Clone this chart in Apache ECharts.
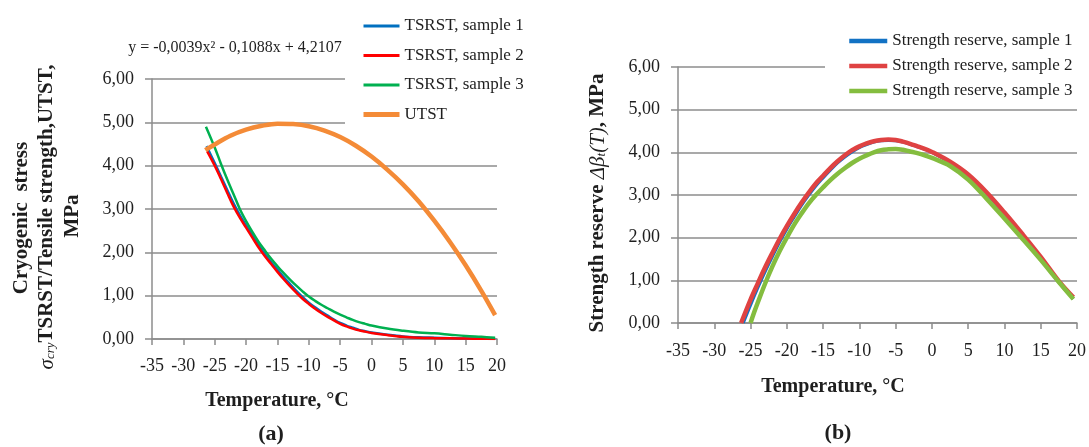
<!DOCTYPE html>
<html>
<head>
<meta charset="utf-8">
<script src="https://cdn.jsdelivr.net/npm/echarts@6/dist/echarts.min.js"></script>
<style>
html,body{margin:0;padding:0;background:#fff;}
#c{width:1089px;height:447px;}
</style>
</head>
<body>
<div id="c"></div>
<script>
// ---------- DATA ----------
const xTickValues = [-35,-30,-25,-20,-15,-10,-5,0,5,10,15,20];
const xTickLabels = ['-35','-30','-25','-20','-15','-10','-5','0','5','10','15','20'];
const yTickLabels = ['0,00','1,00','2,00','3,00','4,00','5,00','6,00'];

// (a) Cryogenic stress (TSRST) and tensile strength (UTST)
const tsrst1T = [-26.3,-25,-24,-23,-22,-21,-20,-19,-18,-17,-16,-15,-14,-13,-12,-11,-10,-9,-8,-7,-6,-5,-4,-3,-2,-1,0,2.5,5,7.5,10,12.5,15,17.5,19.7];
const tsrst1V = [4.45,4.06,3.75,3.44,3.13,2.86,2.62,2.39,2.16,1.96,1.77,1.60,1.43,1.27,1.11,0.97,0.84,0.73,0.63,0.54,0.45,0.37,0.31,0.26,0.21,0.18,0.15,0.10,0.06,0.04,0.03,0.02,0.01,0.01,0.01];
const tsrst2T = [-26.2,-25,-24,-23,-22,-21,-20,-19,-18,-17,-16,-15,-14,-13,-12,-11,-10,-9,-8,-7,-6,-5,-4,-3,-2,-1,0,2.5,5,7.5,10,12.5,15,17.5,19.7];
const tsrst2V = [4.33,4.00,3.69,3.37,3.06,2.80,2.57,2.34,2.11,1.91,1.73,1.55,1.38,1.22,1.07,0.93,0.81,0.70,0.60,0.51,0.43,0.35,0.29,0.24,0.20,0.17,0.14,0.09,0.05,0.03,0.02,0.015,0.01,0.005,0.00];
const tsrst3T = [-26.4,-25,-24,-23,-22,-21,-20,-19,-18,-17,-16,-15,-14,-13,-12,-11,-10,-9,-8,-7,-6,-5,-4,-3,-2,-1,0,2.5,5,7.5,10,12.5,15,17.5,19.7];
const tsrst3V = [4.90,4.42,4.04,3.68,3.34,3.00,2.72,2.47,2.24,2.04,1.85,1.68,1.52,1.37,1.23,1.10,0.98,0.88,0.79,0.71,0.63,0.56,0.50,0.44,0.39,0.35,0.31,0.24,0.19,0.15,0.13,0.10,0.07,0.05,0.03];
const utstT = [-26.5,-25,-22.5,-20,-17.5,-15,-12.5,-10,-7.5,-5,-2.5,0,2.5,5,7.5,10,12.5,15,17.5,19.7];
const utstV = [4.36,4.49,4.69,4.83,4.92,4.97,4.96,4.91,4.81,4.66,4.46,4.21,3.91,3.57,3.18,2.73,2.24,1.70,1.11,0.55];
const equationText = 'y = -0,0039x² - 0,1088x + 4,2107';

// (b) Strength reserve
const res1T = [-26.0,-25,-24,-23,-22,-21,-20,-19,-18,-17,-16,-15,-14,-13,-12,-11,-10,-9,-8,-7,-6,-5,-4,-3,-2,-1,0,2.5,5,7.5,10,12.5,15,17.5,19.5];
const res1V = [0.00,0.42,0.82,1.20,1.55,1.89,2.20,2.48,2.75,2.99,3.21,3.40,3.58,3.75,3.89,4.01,4.11,4.18,4.24,4.27,4.28,4.27,4.24,4.19,4.13,4.07,4.00,3.76,3.46,3.04,2.55,2.04,1.51,0.95,0.57];
const res2T = [-26.3,-25,-24,-23,-22,-21,-20,-19,-18,-17,-16,-15,-14,-13,-12,-11,-10,-9,-8,-7,-6,-5,-4,-3,-2,-1,0,2.5,5,7.5,10,12.5,15,17.5,19.5];
const res2V = [0.00,0.55,0.93,1.30,1.64,1.97,2.27,2.55,2.81,3.05,3.27,3.45,3.63,3.79,3.93,4.05,4.14,4.21,4.26,4.29,4.30,4.29,4.25,4.20,4.14,4.08,4.01,3.78,3.48,3.07,2.59,2.08,1.55,0.98,0.60];
const res3T = [-25.0,-24.5,-24,-23,-22,-21,-20,-19,-18,-17,-16,-15,-14,-13,-12,-11,-10,-9,-8,-7,-6,-5,-4,-3,-2,-1,0,2.5,5,7.5,10,12.5,15,17.5,19.5];
const res3V = [0.00,0.25,0.48,0.92,1.32,1.68,2.00,2.30,2.56,2.80,3.00,3.18,3.35,3.50,3.63,3.75,3.85,3.93,4.00,4.05,4.07,4.08,4.06,4.02,3.98,3.93,3.87,3.68,3.36,2.92,2.45,1.97,1.48,0.96,0.56];

// ---------- CHART ----------
const pairs = (t, v) => t.map((x, i) => [x, v[i]]);
const FONT = "'Liberation Serif', 'Times New Roman', serif";
const TXT = '#1e1e1e';
const GRID_C = '#8c8c8c';

function xAxisCfg(gi, margin) {
  return {
    type: 'value', gridIndex: gi, min: -35, max: 20, interval: 5,
    axisLine: {show: true, onZero: false, lineStyle: {color: GRID_C, width: 1.5}},
    axisTick: {show: true, inside: false, length: 6, lineStyle: {color: GRID_C, width: 1.5}},
    splitLine: {show: false},
    axisLabel: {
      margin: margin, color: TXT, fontFamily: FONT, fontSize: 18,
      formatter: v => { const i = xTickValues.indexOf(Math.round(v)); return i >= 0 ? xTickLabels[i] : ''; }
    }
  };
}
function yAxisCfg(gi) {
  return {
    type: 'value', gridIndex: gi, min: 0, max: 6, interval: 1,
    axisLine: {show: true, onZero: false, lineStyle: {color: GRID_C, width: 1.5}},
    axisTick: {show: true, inside: false, length: 7, lineStyle: {color: GRID_C, width: 1.5}},
    splitLine: {show: true, lineStyle: {color: GRID_C, width: 1.5}},
    axisLabel: {
      margin: 18, color: TXT, fontFamily: FONT, fontSize: 18,
      formatter: v => yTickLabels[Math.round(v)]
    }
  };
}
function lineSeries(name, data, color, width, xi, z) {
  return {
    name, type: 'line', xAxisIndex: xi, yAxisIndex: xi, data,
    smooth: 0.35, symbol: 'none', z: z,
    lineStyle: {color, width}, itemStyle: {color},
    animation: false
  };
}

const chart = echarts.init(document.getElementById('c'), null, {renderer: 'canvas'});
chart.setOption({
  animation: false,
  backgroundColor: '#fff',
  grid: [
    {left: 152, right: 592, top: 79, bottom: 108},
    {left: 678, right: 9, top: 67, bottom: 124}
  ],
  xAxis: [xAxisCfg(0, 18), xAxisCfg(1, 19)],
  yAxis: [yAxisCfg(0), yAxisCfg(1)],
  legend: [
    {
      orient: 'vertical', left: 345, top: 8,
      padding: [8, 12, 10, 16], backgroundColor: '#fff', z: 10,
      itemWidth: 36, itemHeight: 14, itemGap: 9.5,
      itemStyle: {opacity: 0},
      textStyle: {fontFamily: FONT, fontSize: 17, color: TXT, lineHeight: 20},
      data: [
        {name: 'TSRST, sample 1', lineStyle: {width: 3}},
        {name: 'TSRST, sample 2', lineStyle: {width: 3}},
        {name: 'TSRST, sample 3', lineStyle: {width: 3}},
        {name: 'UTST', lineStyle: {width: 5}}
      ]
    },
    {
      orient: 'vertical', left: 825, top: 25,
      padding: [6, 8, 6, 22], backgroundColor: '#fff', z: 10,
      itemWidth: 38, itemHeight: 14, itemGap: 5,
      itemStyle: {opacity: 0},
      textStyle: {fontFamily: FONT, fontSize: 17, color: TXT, lineHeight: 20},
      data: [
        {name: 'Strength reserve, sample 1', lineStyle: {width: 4.5}},
        {name: 'Strength reserve, sample 2', lineStyle: {width: 4.5}},
        {name: 'Strength reserve, sample 3', lineStyle: {width: 4.5}}
      ]
    }
  ],
  series: [
    lineSeries('TSRST, sample 1', pairs(tsrst1T, tsrst1V), '#0070C0', 2.5, 0, 2),
    lineSeries('TSRST, sample 2', pairs(tsrst2T, tsrst2V), '#FF0000', 2.5, 0, 3),
    lineSeries('TSRST, sample 3', pairs(tsrst3T, tsrst3V), '#00B050', 2.5, 0, 4),
    lineSeries('UTST', pairs(utstT, utstV), '#F48B37', 4.5, 0, 5),
    lineSeries('Strength reserve, sample 1', pairs(res1T, res1V), '#1272C4', 3, 1, 2),
    lineSeries('Strength reserve, sample 2', pairs(res2T, res2V), '#DF4242', 4.5, 1, 3),
    lineSeries('Strength reserve, sample 3', pairs(res3T, res3V), '#84BD3F', 4.5, 1, 4)
  ],
  graphic: [
    {type: 'text', x: 235, y: 48, style: {text: equationText, fill: TXT, fontFamily: FONT, fontSize: 16, align: 'center', verticalAlign: 'middle', textAlign: 'center', textVerticalAlign: 'middle'}},
    {type: 'text', x: 22, y: 218, rotation: Math.PI / 2, style: {text: 'Cryogenic  stress', fill: TXT, fontFamily: FONT, fontSize: 21, fontWeight: 'bold', align: 'center', verticalAlign: 'middle', textAlign: 'center', textVerticalAlign: 'middle'}},
    {type: 'text', x: 47, y: 217, rotation: Math.PI / 2, style: {
      text: '{i|σ}{s|cry}{b|TSRST/Tensile strength,UTST,}', fill: TXT, fontFamily: FONT, fontSize: 21,
      align: 'center', verticalAlign: 'middle', textAlign: 'center', textVerticalAlign: 'middle',
      rich: {
        i: {fontFamily: FONT, fontSize: 21, fontStyle: 'italic', fill: TXT, color: TXT},
        s: {fontFamily: FONT, fontSize: 13, fontStyle: 'italic', fill: TXT, color: TXT, verticalAlign: 'bottom'},
        b: {fontFamily: FONT, fontSize: 21, fontWeight: 'bold', fill: TXT, color: TXT}
      }
    }},
    {type: 'text', x: 73, y: 216, rotation: Math.PI / 2, style: {text: 'MPa', fill: TXT, fontFamily: FONT, fontSize: 21, fontWeight: 'bold', align: 'center', verticalAlign: 'middle', textAlign: 'center', textVerticalAlign: 'middle'}},
    {type: 'text', x: 277, y: 401, style: {text: 'Temperature, °C', fill: TXT, fontFamily: FONT, fontSize: 20, fontWeight: 'bold', align: 'center', verticalAlign: 'middle', textAlign: 'center', textVerticalAlign: 'middle'}},
    {type: 'text', x: 271, y: 434, style: {text: '(a)', fill: TXT, fontFamily: FONT, fontSize: 22, fontWeight: 'bold', align: 'center', verticalAlign: 'middle', textAlign: 'center', textVerticalAlign: 'middle'}},
    {type: 'text', x: 598, y: 203, rotation: Math.PI / 2, style: {
      text: '{b|Strength reserve }{i|Δβ}{s|t}{i|(T)}{b|, MPa}', fill: TXT, fontFamily: FONT, fontSize: 21,
      align: 'center', verticalAlign: 'middle', textAlign: 'center', textVerticalAlign: 'middle',
      rich: {
        i: {fontFamily: FONT, fontSize: 21, fontStyle: 'italic', fill: TXT, color: TXT},
        s: {fontFamily: FONT, fontSize: 13, fontStyle: 'italic', fill: TXT, color: TXT, verticalAlign: 'bottom'},
        b: {fontFamily: FONT, fontSize: 21, fontWeight: 'bold', fill: TXT, color: TXT}
      }
    }},
    {type: 'text', x: 833, y: 387, style: {text: 'Temperature, °C', fill: TXT, fontFamily: FONT, fontSize: 20, fontWeight: 'bold', align: 'center', verticalAlign: 'middle', textAlign: 'center', textVerticalAlign: 'middle'}},
    {type: 'text', x: 838, y: 433, style: {text: '(b)', fill: TXT, fontFamily: FONT, fontSize: 22, fontWeight: 'bold', align: 'center', verticalAlign: 'middle', textAlign: 'center', textVerticalAlign: 'middle'}}
  ]
});
</script>
</body>
</html>
